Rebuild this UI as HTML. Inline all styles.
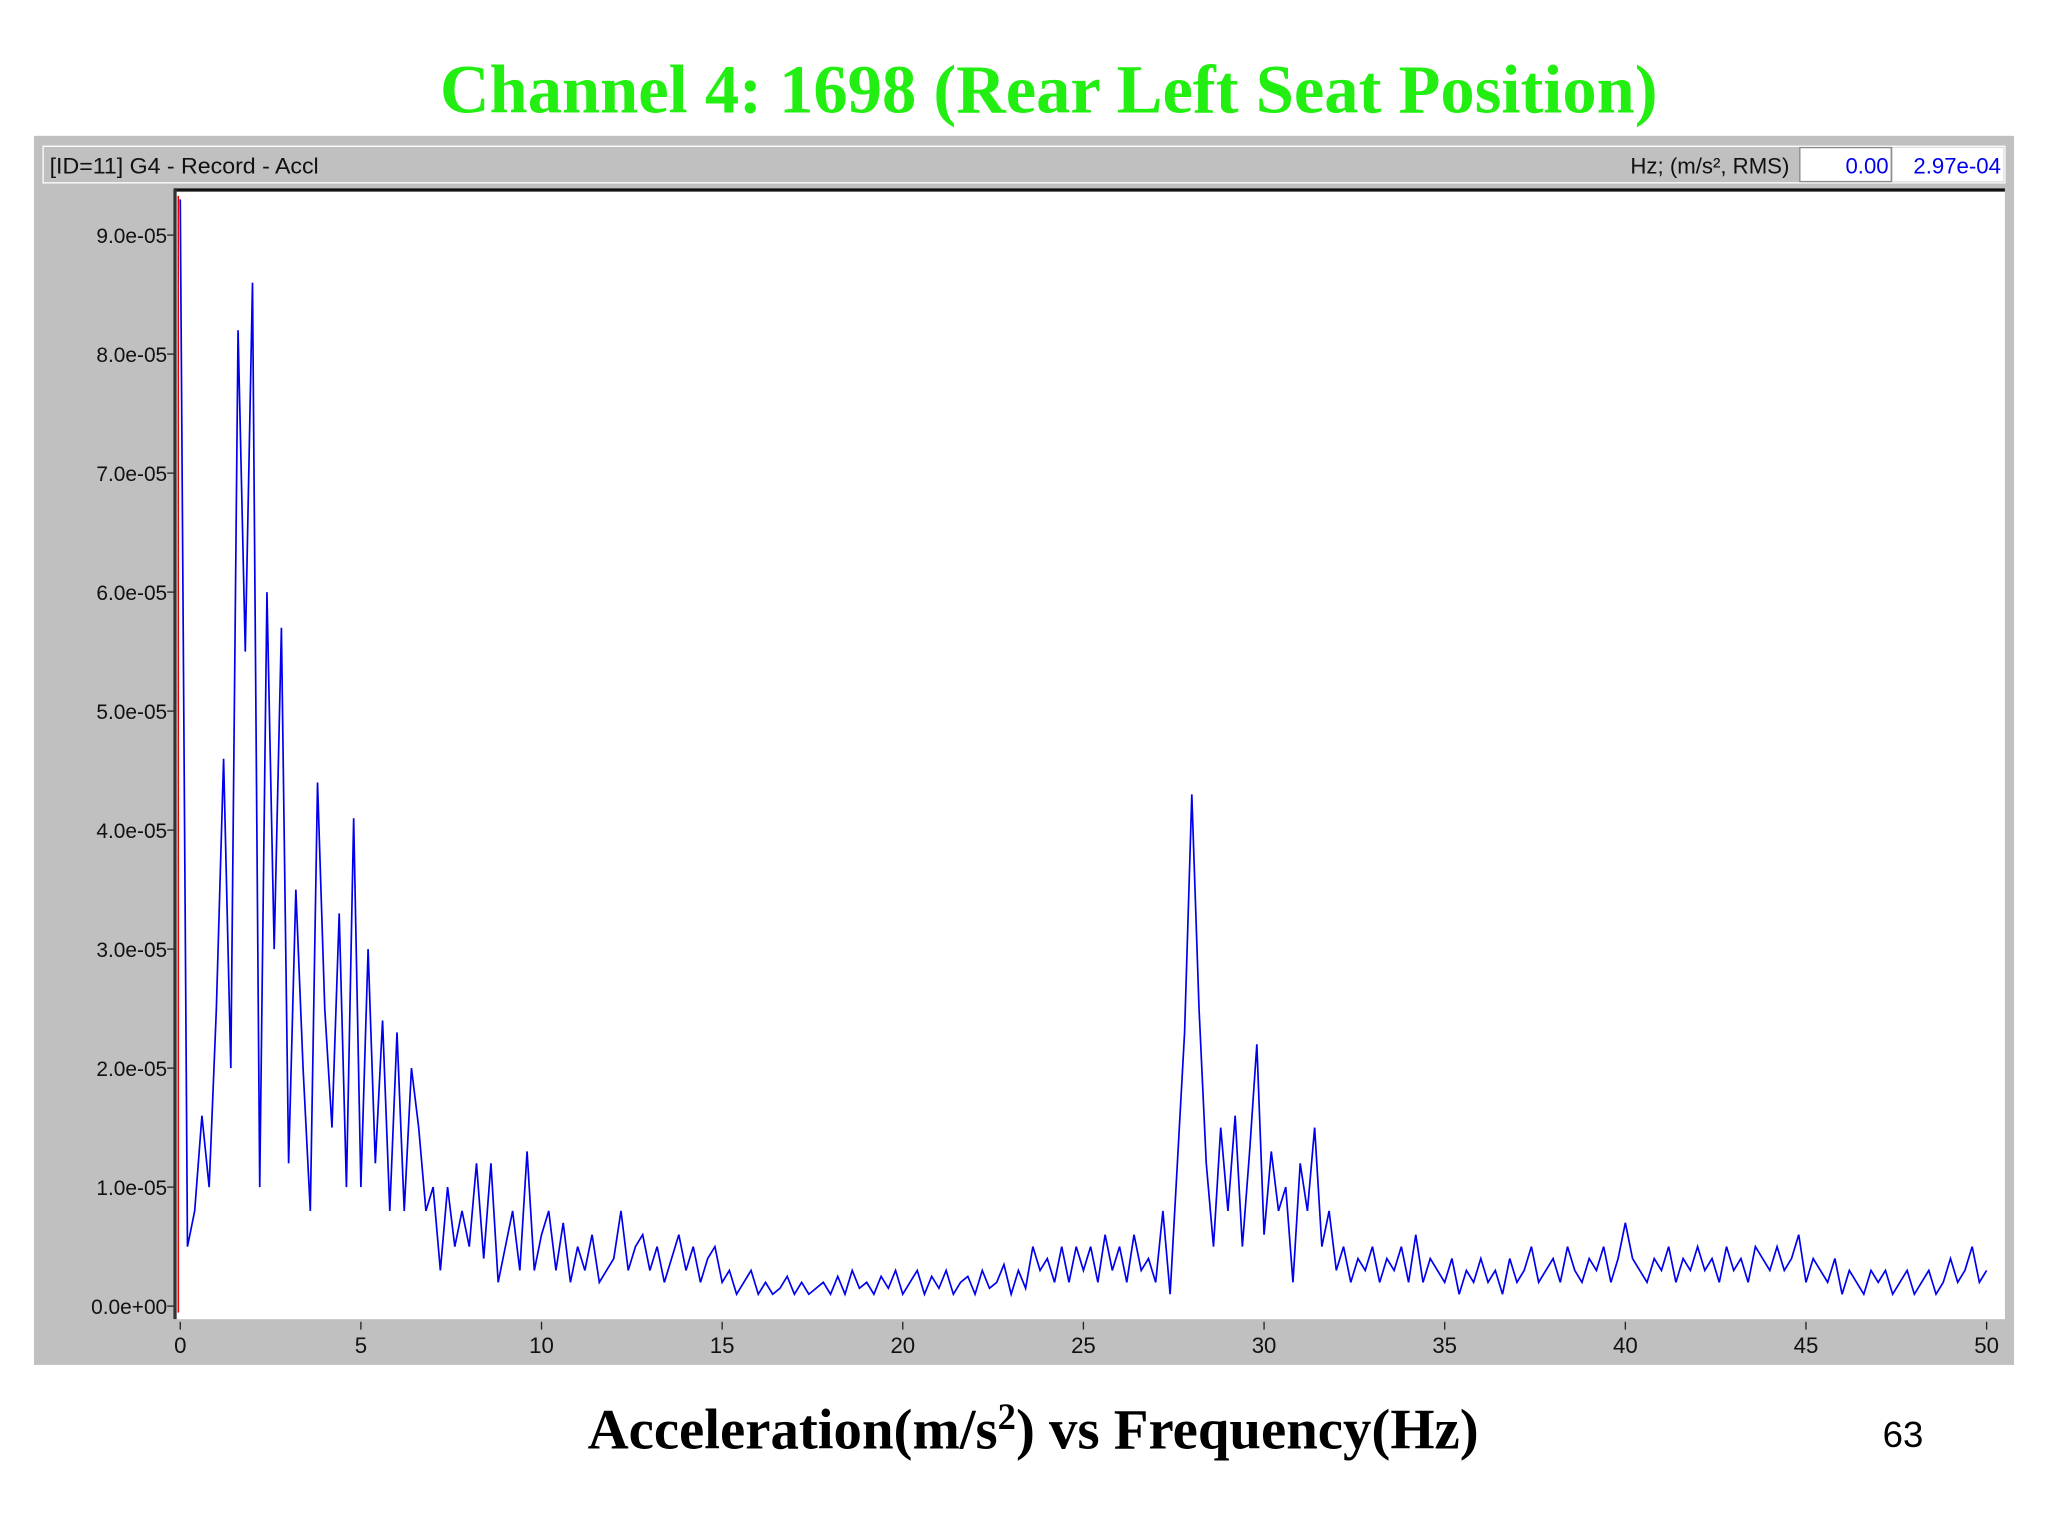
<!DOCTYPE html>
<html><head><meta charset="utf-8"><style>
html,body{margin:0;padding:0;background:#fff;}
svg{display:block;}
</style></head><body>
<svg id="chart" width="2048" height="1536" viewBox="0 0 1568 1176" xmlns="http://www.w3.org/2000/svg">
<rect width="1568" height="1176" fill="#fff"/>
<text x="803" y="86" text-anchor="middle" font-family="Liberation Serif, serif" font-weight="bold" font-size="52.5" fill="#22ee11">Channel 4: 1698 (Rear Left Seat Position)</text>
<rect x="26" y="104" width="1516" height="941" fill="#c0c0c0"/>
<rect x="33" y="112" width="1502" height="28" fill="#c0c0c0" stroke="#fff" stroke-width="1"/>
<text x="38" y="133" font-family="Liberation Sans, sans-serif" font-size="17" fill="#111" textLength="206" lengthAdjust="spacingAndGlyphs">[ID=11] G4  - Record - Accl</text>
<text x="1370" y="133" text-anchor="end" font-family="Liberation Sans, sans-serif" font-size="17" fill="#111">Hz; (m/s², RMS)</text>
<rect x="1378" y="113" width="70" height="26" fill="#fff" stroke="#888" stroke-width="1"/>
<text x="1446" y="133" text-anchor="end" font-family="Liberation Sans, sans-serif" font-size="17" fill="#0000ee">0.00</text>
<rect x="1449" y="113" width="85" height="26" fill="#fff"/>
<text x="1532" y="133" text-anchor="end" font-family="Liberation Sans, sans-serif" font-size="17" fill="#0000ee">2.97e-04</text>
<rect x="133" y="145" width="1402" height="865" fill="#fff"/>
<line x1="133" y1="145.5" x2="1535" y2="145.5" stroke="#111" stroke-width="2.5"/>
<line x1="134" y1="145" x2="134" y2="1010" stroke="#333" stroke-width="2.5"/>
<g id="yaxis"></g>
<g id="xaxis"></g>
<line x1="136.5" y1="150" x2="136.5" y2="1005" stroke="#ee0000" stroke-width="1.2"/>
<path id="series" fill="none" stroke="#0000ee" stroke-width="1.3"/>
<text x="791" y="1109" text-anchor="middle" font-family="Liberation Serif, serif" font-weight="bold" font-size="43.5" fill="#000">Acceleration(m/s<tspan font-size="28" dy="-15">2</tspan><tspan dy="15">) vs Frequency(Hz)</tspan></text>
<text x="1457" y="1108" text-anchor="middle" font-family="Liberation Sans, sans-serif" font-size="28" fill="#000">63</text>
</svg>
<script>
const yTicks = [0,1,2,3,4,5,6,7,8,9];
const yTickLabels = ["0.0e+00","1.0e-05","2.0e-05","3.0e-05","4.0e-05","5.0e-05","6.0e-05","7.0e-05","8.0e-05","9.0e-05"];
const xTicks = [0,5,10,15,20,25,30,35,40,45,50];
const freqStep = 0.2;
const accel = [9.3,0.5,0.8,1.6,1.0,2.5,4.6,2.0,8.2,5.5,8.6,
1.0,6.0,3.0,5.7,1.2,3.5,2.0,0.8,4.4,2.5,
1.5,3.3,1.0,4.1,1.0,3.0,1.2,2.4,0.8,2.3,
0.8,2.0,1.5,0.8,1.0,0.3,1.0,0.5,0.8,0.5,
1.2,0.4,1.2,0.2,0.5,0.8,0.3,1.3,0.3,0.6,
0.8,0.3,0.7,0.2,0.5,0.3,0.6,0.2,0.3,0.4,
0.8,0.3,0.5,0.6,0.3,0.5,0.2,0.4,0.6,0.3,
0.5,0.2,0.4,0.5,0.2,0.3,0.1,0.2,0.3,0.1,
0.2,0.1,0.15,0.25,0.1,0.2,0.1,0.15,0.2,0.1,
0.25,0.1,0.3,0.15,0.2,0.1,0.25,0.15,0.3,0.1,
0.2,0.3,0.1,0.25,0.15,0.3,0.1,0.2,0.25,0.1,
0.3,0.15,0.2,0.35,0.1,0.3,0.15,0.5,0.3,0.4,
0.2,0.5,0.2,0.5,0.3,0.5,0.2,0.6,0.3,0.5,
0.2,0.6,0.3,0.4,0.2,0.8,0.1,1.2,2.3,4.3,
2.5,1.2,0.5,1.5,0.8,1.6,0.5,1.3,2.2,0.6,
1.3,0.8,1.0,0.2,1.2,0.8,1.5,0.5,0.8,0.3,
0.5,0.2,0.4,0.3,0.5,0.2,0.4,0.3,0.5,0.2,
0.6,0.2,0.4,0.3,0.2,0.4,0.1,0.3,0.2,0.4,
0.2,0.3,0.1,0.4,0.2,0.3,0.5,0.2,0.3,0.4,
0.2,0.5,0.3,0.2,0.4,0.3,0.5,0.2,0.4,0.7,
0.4,0.3,0.2,0.4,0.3,0.5,0.2,0.4,0.3,0.5,
0.3,0.4,0.2,0.5,0.3,0.4,0.2,0.5,0.4,0.3,
0.5,0.3,0.4,0.6,0.2,0.4,0.3,0.2,0.4,0.1,
0.3,0.2,0.1,0.3,0.2,0.3,0.1,0.2,0.3,0.1,
0.2,0.3,0.1,0.2,0.4,0.2,0.3,0.5,0.2,0.3];

const NS = "http://www.w3.org/2000/svg";
function xScale(f){ return 138 + f * (1521 - 138) / 50; }
function yScale(v){ return 1000 - v * (1000 - 180) / 9; }

const yg = document.getElementById('yaxis');
yTicks.forEach((t,i)=>{
  const y = yScale(t);
  const ln = document.createElementNS(NS,'line');
  
  
  ln.setAttribute('x1',128); ln.setAttribute('x2',133);
  ln.setAttribute('y1',y); ln.setAttribute('y2',y);
  ln.setAttribute('stroke','#222');
  yg.appendChild(ln);
  const tx = document.createElementNS(NS,'text');
  
  
  tx.setAttribute('x',128); tx.setAttribute('y',y+6);
  tx.setAttribute('text-anchor','end');
  tx.setAttribute('font-family','Liberation Sans, sans-serif');
  tx.setAttribute('font-size','16');
  tx.setAttribute('fill','#111');
  tx.textContent = yTickLabels[i];
  yg.appendChild(tx);
});
const xg = document.getElementById('xaxis');
xTicks.forEach(t=>{
  const x = xScale(t);
  const ln = document.createElementNS(NS,'line');
  
  
  ln.setAttribute('x1',x); ln.setAttribute('x2',x);
  ln.setAttribute('y1',1012); ln.setAttribute('y2',1018);
  ln.setAttribute('stroke','#222');
  xg.appendChild(ln);
  const tx = document.createElementNS(NS,'text');
  
  
  tx.setAttribute('x',x); tx.setAttribute('y',1036);
  tx.setAttribute('text-anchor','middle');
  tx.setAttribute('font-family','Liberation Sans, sans-serif');
  tx.setAttribute('font-size','17');
  tx.setAttribute('fill','#111');
  tx.textContent = String(t);
  xg.appendChild(tx);
});
let d = '';
accel.forEach((v,i)=>{
  d += (i===0?'M':'L') + xScale(i*freqStep).toFixed(2) + ' ' + yScale(v).toFixed(2) + ' ';
});
document.getElementById('series').setAttribute('d', d);
</script>
</body></html>
